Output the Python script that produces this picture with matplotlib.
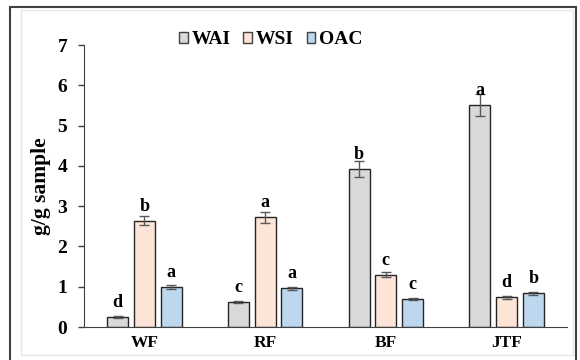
import matplotlib
matplotlib.use("Agg")
import matplotlib.pyplot as plt
import numpy as np
from matplotlib.patches import Rectangle

categories = ["WF", "RF", "BF", "JTF"]
series = ["WAI", "WSI", "OAC"]
wai = [0.25, 0.62, 3.92, 5.51]
wsi = [2.64, 2.72, 1.30, 0.74]
oac = [1.00, 0.96, 0.70, 0.84]
wai_err = [0.02, 0.03, 0.20, 0.27]
wsi_err = [0.12, 0.13, 0.06, 0.04]
oac_err = [0.05, 0.04, 0.03, 0.04]
wai_let = ["d", "c", "b", "a"]
wsi_let = ["b", "a", "c", "d"]
oac_let = ["a", "a", "c", "b"]
yticks = [0, 1, 2, 3, 4, 5, 6, 7]

colors = ["#d9d9d9", "#fce4d6", "#bdd7ee"]
serif = ["Liberation Serif", "DejaVu Serif"]

fig = plt.figure(figsize=(5.8, 3.6), dpi=100)
ax = fig.add_axes([84/580, 1-327/360, (567-84)/580, (327-45)/360])

x = np.arange(len(categories))
w = 0.175
step = 0.222
vals = [wai, wsi, oac]
errs = [wai_err, wsi_err, oac_err]
lets = [wai_let, wsi_let, oac_let]
for i, (v, e, l, c, name) in enumerate(zip(vals, errs, lets, colors, series)):
    pos = x + (i - 1) * step
    ax.bar(pos, v, width=w, color=c, edgecolor="#262626", linewidth=1.0, label=name, zorder=2)
    ax.errorbar(pos, v, yerr=e, fmt="none", ecolor="#595959", elinewidth=1, capsize=3.5, capthick=1, zorder=3)
    for p, vv, ll in zip(pos, v, l):
        ax.text(p, vv + 0.25, ll, ha="center", va="baseline", fontsize=13,
                fontweight="bold", family=serif, zorder=4)

ax.set_xlim(-0.5, 3.5)
ax.set_ylim(0, 7)
ax.set_yticks(yticks)
ax.set_xticks(x)
ax.set_xticklabels(categories)
for s in ["top", "right"]:
    ax.spines[s].set_visible(False)
ax.spines["left"].set_color("#404040")
ax.spines["bottom"].set_color("#404040")
ax.tick_params(axis="y", direction="out", length=4, width=1, color="#404040", pad=8, labelsize=14)
ax.tick_params(axis="x", length=0, pad=6, labelsize=12.5)
for t in ax.get_yticklabels() + ax.get_xticklabels():
    t.set_fontweight("bold")
    t.set_family(serif)
ax.set_ylabel("g/g sample", fontsize=15.5, fontweight="bold", family=serif, labelpad=5)

leg = fig.legend(loc="center", bbox_to_anchor=(271/580, 1-40/360), ncol=3, frameon=False,
                 prop={"family": serif, "weight": "bold", "size": 14},
                 handlelength=0.45, handleheight=0.45, handletextpad=0.2, columnspacing=0.65)
for h in leg.legend_handles:
    h.set_edgecolor("#404040")

fig.patches.append(Rectangle((21/580, 1-355/360), (573-21)/580, (355-10)/360, transform=fig.transFigure,
                             fill=False, edgecolor="#e6e6e6", linewidth=1))
fig.patches.append(Rectangle((10/580, -0.05), (576-10)/580, 1.05-7/360, transform=fig.transFigure,
                             fill=False, edgecolor="#404040", linewidth=1.5))

fig.savefig("out.png", dpi=100)
